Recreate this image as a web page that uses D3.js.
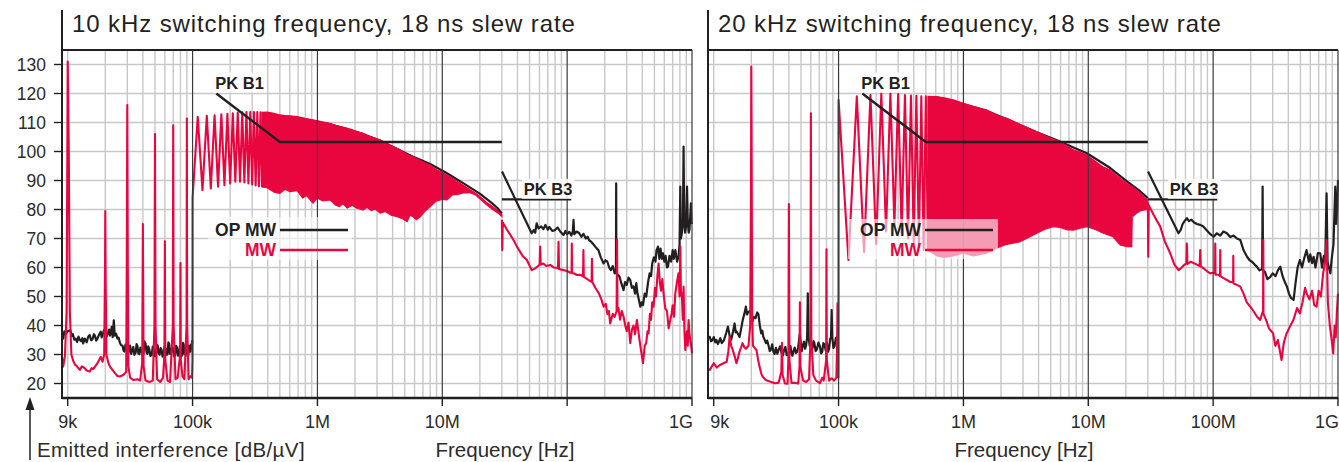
<!DOCTYPE html>
<html>
<head>
<meta charset="utf-8">
<script src="https://cdn.jsdelivr.net/npm/d3@7"></script>
<style>
  html, body { margin: 0; padding: 0; background: #fff; }
  svg { display: block; font-family: 'Liberation Sans', Arial, Helvetica, sans-serif; }
</style>
</head>
<body>
<svg id="chart" width="1339" height="462"></svg>
<script>
'use strict';

/* ── text ─────────────────────────────────── */
const titles = ['10 kHz switching frequency, 18 ns slew rate', '20 kHz switching frequency, 18 ns slew rate'];
const yTicks = [20, 30, 40, 50, 60, 70, 80, 90, 100, 110, 120, 130];
const xTickValues = [0.01, 0.1, 1, 10, 100, 1000];             // MHz
const xTickLabels10 = ['9k', '100k', '1M', '10M', '', '1G'];
const xTickLabels20 = ['9k', '100k', '1M', '10M', '100M', '1G'];
const legendNames = ['OP MW', 'MW'];
const limitNames = ['PK B1', 'PK B3'];
const yTitle = 'Emitted interference [dB/µV]';
const xTitle = 'Frequency [Hz]';

/* ── limit lines [MHz, dB] ────────────────── */
const pkB1 = [[0.155, 120], [0.5, 103.3], [30, 103.3]];
const pkB3 = [[30, 83.5], [108, 83.5]];

/* ── 10 kHz panel: MW [MHz, dB] ───────────── */
const mw10Line = [
  [0.0090,29],[0.0092,25.8],[0.0095,29.5],[0.0098,45],[0.00995,107],[0.0100,131],[0.0102,100],[0.0104,45],
  [0.0107,30],[0.0110,28.1],[0.0114,26.6],[0.0118,26],[0.0125,24.7],[0.0130,25.9],[0.0135,25.5],[0.0142,24.5],
  [0.0150,24.1],[0.0155,25.3],[0.0160,25],[0.0170,26.5],[0.0178,28],[0.0184,29.2],[0.0190,27.5],[0.0196,30],
  [0.0199,60],[0.0200,79.5],[0.0201,60],[0.0204,30],[0.0212,27],[0.0218,25.8],[0.0230,24.5],[0.0240,23.5],
  [0.0250,22.6],[0.0262,22.4],[0.0280,23],[0.0294,24],[0.0297,60],[0.0300,116],[0.0303,60],[0.0306,26],
  [0.0316,22],[0.0337,21.2],[0.0360,21.5],[0.0380,21],[0.0395,27],[0.0400,75],[0.0405,26],[0.0420,21],
  [0.0450,20.5],[0.0480,21],[0.0495,40],[0.0500,106],[0.0505,40],[0.0520,21.5],[0.0550,20.5],[0.0580,22],
  [0.0595,30],[0.0600,69],[0.0605,28],[0.0630,21],[0.0660,20.5],[0.0695,40],[0.0700,109],[0.0705,40],
  [0.0730,21.5],[0.0760,22],[0.0795,30],[0.0800,61.5],[0.0805,28],[0.0830,22.5],[0.0860,21.5],[0.0895,40],
  [0.0900,111.4],[0.0905,40],[0.0930,21.5],[0.0960,22.5],[0.0990,22],[0.0998,28],
  [0.100,84],[0.110,112],[0.120,86.7],[0.130,112.3],[0.140,87.3],[0.150,112.5],[0.160,87.9],[0.170,112.8],
  [0.180,88.4],[0.190,113],[0.200,89],[0.210,113.2],[0.220,89.6],[0.230,113.4],[0.240,89.6],[0.250,113.5],
  [0.260,89.3],[0.270,113.6],[0.280,89],[0.290,113.6],[0.300,88.6],[0.310,113.6],[0.320,88.3],[0.330,113.6],
  [0.340,88],[0.350,113.5],[0.360,87.8]
];
// dense harmonic comb: [MHz, lower edge, upper edge]
const mw10Band = [
  [0.36,87.8,113.5],[0.395,87.5,113.6],[0.45,86,113.2],[0.50,85.6,112.6],[0.55,87,112.4],[0.60,86.2,112.3],
  [0.69,86.5,112],[0.76,84,111.6],[0.82,84.8,111.3],[0.92,82.2,110.9],[1.0,84,110.6],[1.1,83,110.2],
  [1.26,83.3,109.7],[1.4,81.5,109],[1.5,81,108.7],[1.6,82,108.4],[1.73,80.5,108],[1.9,81.5,107.5],
  [2.05,80.5,107],[2.32,79.8,106.3],[2.5,80.8,105.6],[2.7,79.6,105],[2.9,80.2,104.6],[3.18,78.8,104],
  [3.5,79.3,103.1],[3.9,78,102],[4.35,77.5,101.1],[4.8,76.8,100],[5.23,75.8,99],[5.5,78,98.6],
  [5.84,77.5,98.2],[6.2,76.5,97.6],[6.65,77.5,96.9],[7.3,79.5,96],[8.0,81,95.3],[9.0,83,93.7],
  [10.0,83.5,92.8],[10.9,83.3,91.9],[12.0,85,90.8],[13.3,85.2,89.6],[14.7,85.7,88.4],[16.7,85.8,86.8],
  [18.5,85,85.6],[20.1,83.6,84.4],[22.5,81.7,82.5],[25,80.2,81.2],[27.5,79,79.8],[30,77.6,78.2]
];
const mw10Tail = [
  [30,76.5],[30.2,66],[30.5,75.5],[33,73],[37.2,69.5],[39.6,67.2],[44,64],[47.6,62.6],[52,59.1],[55.5,59.7],
  [58.5,60.5],[60.2,61],[60.8,67.2],[61.4,61],[64.3,61.4],[68,60.5],[73.2,60.9],[78,60],[84.5,59.8],[85.3,68.9],
  [86.1,59.5],[93.5,59.1],[100,58.8],[106,58.2],[108.5,58.5],[109,68.3],[109.5,58],[112.5,58],[119.8,57.4],
  [127,57.5],[134,57],[135,66],[136,56.8],[145,56],[157,55],[158,63],[159,55],[168,53],[180,51],[188,49],
  [196,46.5],[204,47.5],[210,44],[216,45],[221,40.7],[232,44],[240,43],[249,45],[251,69.5],[253,45],[258,46],
  [265,42],[274,45],[283,43],[292,40],[300,38],[310,41],[320,33.9],[330,38.5],[340,40],[350,37],[362,41.9],
  [372,38],[380,35],[392,31],[405,27],[418,33],[430,34],[440,38],[449,37.3],[460,44],[470,42],[480,48],
  [492,46.5],[505,53],[515,50],[528,57],[540,61.4],[552,55],[565,52],[578,56],[592,51.1],[610,46],[630,45],
  [650,39],[670,41.9],[686,44],[700,47],[718,43],[735,51.1],[758,55],[780,58],[795,50],[806,67.2],[815,52],
  [830,50],[845,42],[856,53.4],[870,38],[884,31.6],[898,36],[912,38],[925,33],[939,41.9],[955,37],[969,35],
  [985,33],[1000,30.4]
];

/* ── 10 kHz panel: OP MW [MHz, dB] ────────── */
const op10Low = [
  [0.0090,37.4],[0.0092,35.5],[0.0094,38],[0.0096,37],[0.0100,38],[0.0105,38.4],[0.0108,36.4],[0.0110,37],
  [0.0113,35.1],[0.0116,35.5],[0.0119,34.3],[0.0122,36.2],[0.0125,35],[0.0128,34.6],[0.0131,35.6],[0.0133,33.8],
  [0.0137,35.5],[0.0142,34.2],[0.0146,36.1],[0.0150,36.7],[0.0154,34.9],[0.0158,35.3],[0.0162,37],[0.0165,36.5],
  [0.0169,34.8],[0.0172,35.2],[0.0178,36.8],[0.0184,37.9],[0.0187,35.9],[0.0190,36.6],[0.0195,38.4],[0.0200,38],
  [0.0205,36.2],[0.0210,37.4],[0.0214,38.6],[0.0218,36.5],[0.0225,39.5],[0.0229,36],[0.0234,41.8],[0.0238,36.5],
  [0.0244,37.2],[0.0250,35.5],[0.0256,35.8],[0.0262,34],[0.0268,33.2],[0.0275,33],[0.0280,31.4],[0.0285,31],
  [0.0290,33.4],[0.0295,32.6],[0.0302,30.4],[0.0310,31.2],[0.0316,33.1],[0.0322,30.2],[0.0328,31.3],[0.0335,32.6],
  [0.0342,29.9],[0.0350,30.6],[0.0356,33.6],[0.0362,32.8],[0.0368,30.4],[0.0375,30.1],[0.0382,32.4],[0.0390,31.5],
  [0.0398,29.6],[0.0405,30.3],[0.0412,34.5],[0.0420,33.8],[0.0428,30.7],[0.0435,30.2],[0.0442,32.8],[0.0450,31.8],
  [0.0460,29.5],[0.0470,29.8],[0.0480,32.7],[0.0490,31.6],[0.0500,29.4],[0.0510,30.1],[0.0518,32.6],[0.0525,33.2],
  [0.0535,30.5],[0.0545,30],[0.0555,32.2],[0.0565,31.6],[0.0575,29.3],[0.0585,29.7],[0.0597,32.8],[0.0610,32],
  [0.0620,29.9],[0.0630,30],[0.0640,34.2],[0.0650,33.6],[0.0660,30.2],[0.0670,30.4],[0.0685,32.5],[0.0700,31.5],
  [0.0712,29.4],[0.0725,29.6],[0.0738,33],[0.0750,32.4],[0.0765,29.6],[0.0780,30],[0.0790,32.6],[0.0800,31.4],
  [0.0812,29.4],[0.0825,29.8],[0.0838,34],[0.0850,33.2],[0.0862,30.1],[0.0875,30.3],[0.0888,32.7],[0.0900,31.6],
  [0.0912,29.5],[0.0925,29.8],[0.0938,33.1],[0.0950,32.5],[0.0962,31],[0.0975,33.5],[0.0985,31.9],[0.0995,35]
];
const op10High = [
  [0.36,113.2],[0.5,112.3],[0.69,111.7],[0.92,110.6],[1.26,109.4],[1.73,107.7],[2.32,106],[3.18,103.7],
  [4.35,100.9],[5.84,98.2],[8,95.7],[10.9,92.5],[14.7,89.1],[20.1,85.4],[25,82.2],[27.5,80.6],[30,78.6]
];
const op10Tail = [
  [30.1,93.1],[52,71.8],[54,72.9],[55.5,72],[57,75.2],[59,73.5],[62,74.2],[64.5,73.2],[67,74.7],[70,73],
  [72,74],[76,72.6],[80,72.9],[84,73.8],[88,72.4],[93.5,71.2],[97,72.6],[100,71.5],[104,72.3],[108,71],
  [111,72.5],[112.5,76.4],[114,71.5],[119,72.4],[125,71.8],[130,70.6],[135,71.6],[141,70],[146,70.6],[150,69.4],
  [155,69],[161,68.2],[168,67.2],[173,66.5],[178,66],[186,63.5],[196,61.4],[203,62.5],[210,62],[217,60],
  [224,59.1],[232,60.5],[240,58],[246,58.5],[247,89],[248,58],[255,57.5],[263,56.8],[272,54.5],[283,52.2],
  [291,55],[300,54],[310,56.5],[320,55.7],[330,53],[340,53.5],[350,51],[358,54.6],[366,51],[375,49],
  [386,46.5],[395,48],[405,47],[418,51],[430,50],[445,55],[458,58],[470,57],[480,61.4],[495,63.5],
  [510,62],[520,66],[534,67.2],[548,63],[560,66.5],[575,63],[586,64.9],[600,62],[615,64],[630,60],
  [642,60.3],[660,64],[680,62],[700,66],[715,63],[735,66],[760,62],[780,64],[795,68],[806,87.9],
  [815,70],[830,72],[845,75],[856,101.7],[865,78],[880,72],[895,74],[912,87.9],[925,76],[940,72],
  [955,73],[969,78],[980,82.1],[990,76],[1000,75]
];

/* ── 20 kHz panel: MW [MHz, dB] ───────────── */
const mw20Line = [
  [0.0090,25],[0.0093,24.7],[0.0100,27],[0.0106,25.5],[0.0112,26.4],[0.0120,27],[0.0127,27.5],[0.0131,31],
  [0.0134,36.1],[0.0138,33],[0.0142,31.6],[0.0148,29],[0.0152,27],[0.0157,29],[0.0161,31],[0.0166,32.5],
  [0.0170,33.9],[0.0176,32.5],[0.0181,32],[0.0190,33],[0.0196,40],[0.0199,90],[0.0200,129.3],[0.0201,110],
  [0.0203,45],[0.0206,33],[0.0209,32.7],[0.0215,32],[0.0220,31.6],[0.0227,28],[0.0233,25.8],[0.0240,23.5],
  [0.0246,22.4],[0.0261,21.2],[0.0285,20.6],[0.0310,20.1],[0.0331,20.3],[0.0348,24],[0.0352,34],[0.0356,23],
  [0.0372,20],[0.0390,19.9],[0.0396,28],[0.0400,81.9],[0.0404,28],[0.0420,20.2],[0.0450,20.2],[0.0475,20],
  [0.0487,26],[0.0490,48],[0.0493,26],[0.0520,21],[0.0550,20.5],[0.0580,21.5],[0.0595,35],[0.0600,113.2],
  [0.0605,35],[0.0628,22.9],[0.0660,21],[0.0710,20.1],[0.0740,22],[0.0760,21],[0.0795,28],[0.0800,66.3],
  [0.0805,28],[0.0840,21],[0.0880,21.8],[0.0920,21],[0.0960,22],[0.0975,35],[0.0980,47.7],[0.0985,30],
  [0.0998,22],
  [0.100,117.8],[0.120,62.6],[0.140,119],[0.160,65.4],[0.180,119.5],[0.200,68],[0.220,120],[0.240,72.4],
  [0.260,120],[0.280,74.7],[0.300,119.8],[0.320,72],[0.340,119.5],[0.360,70],[0.380,119.3],[0.400,68],
  [0.420,119.2],[0.440,67],[0.460,119],[0.480,66],[0.500,119],[0.520,66]
];
const mw20Band = [
  [0.52,66,119],[0.615,64,118.9],[0.70,63.5,118.5],[0.827,64,117.8],[1.0,65,116.6],[1.2,64,115.6],
  [1.54,65,114.3],[1.8,66.5,112.8],[1.97,67.2,112],[2.23,68,111.4],[2.85,68.9,109.3],[3.87,71.8,106.8],
  [4.5,73.2,105.5],[5.26,74.1,104.2],[5.95,73.8,103.4],[6.8,73,101.8],[7.6,72.9,100.6],[8.6,73.6,99.7],
  [9.74,74.1,98.8],[11.5,73,96.5],[13.2,71.8,94.6],[15,71,93.6],[15.8,70.6,92.8],[18,67.8,90.8],
  [20.4,67.2,89],[22.3,67.2,88],[22.5,77.5,87.9],[24,78.5,87],[26,79.5,85.6],[27.5,79.8,84.6],[30,80,83.3]
];
const mw20Tail = [
  [30,82.5],[30.2,63.7],[30.5,81.5],[33.5,78],[37.7,74.1],[41,69],[45.3,64.9],[49,61],[52.8,59.1],[56,60],
  [59,61],[61,61.4],[61.6,68.3],[62.2,61.2],[66,62],[70,61.5],[74,61],[78,60.5],[78.8,66],[79.6,60.4],
  [85,59.5],[90,58.6],[94.8,58],[100,58.2],[103.5,58],[104,68.3],[104.5,57.5],[110,57.5],[113.5,57],[114,66],
  [114.5,57],[120,56.4],[129,55.7],[137,55],[144.5,55],[145,64],[145.5,54.5],[155,54],[165,53.4],[175,51],
  [186,48],[198,46.5],[210,45],[225,43],[238,41.9],[246,44],[251,45],[252,69.5],[253,44],[265,42],
  [280,39],[302,37.3],[315,33],[330,35],[353,28.1],[368,34],[385,37],[412,39.6],[440,42],[470,46],
  [495,44.2],[520,48],[545,53],[560,51.1],[590,49],[620,52],[645,47],[674,46.5],[700,52],[730,50],
  [760,58],[790,62],[810,69.5],[830,48],[860,40],[890,35],[915,30.4],[940,40],[960,36],[980,45],[1000,51]
];

/* ── 20 kHz panel: OP MW [MHz, dB] ────────── */
const op20Low = [
  [0.0090,36],[0.0093,36.1],[0.0095,34.6],[0.0097,34.8],[0.0100,36],[0.0103,34.2],[0.0105,35],[0.0108,33.6],
  [0.0110,34.4],[0.0113,35.6],[0.0116,33.9],[0.0121,35],[0.0126,37.5],[0.0130,39.6],[0.0134,36.5],[0.0138,35],
  [0.0143,38],[0.0147,40.7],[0.0150,37.6],[0.0152,38],[0.0157,37],[0.0161,36],[0.0166,39],[0.0171,42],
  [0.0176,44],[0.0181,46.5],[0.0185,43.8],[0.0188,44.5],[0.0195,45],[0.0200,44],[0.0205,41.6],[0.0209,43],
  [0.0216,42.5],[0.0223,44.5],[0.0228,43.9],[0.0234,40],[0.0240,37.3],[0.0245,38.2],[0.0250,36],[0.0256,35.1],
  [0.0262,33.9],[0.0268,34.8],[0.0275,33],[0.0281,31.2],[0.0288,31.8],[0.0294,33.5],[0.0300,31],[0.0307,30.2],
  [0.0315,32.3],[0.0323,30.3],[0.0331,31.6],[0.0340,32.8],[0.0350,30.5],[0.0358,29.7],[0.0365,31.4],[0.0375,32.6],
  [0.0384,29.8],[0.0395,30.2],[0.0405,31],[0.0412,32.9],[0.0420,30.2],[0.0427,29.6],[0.0434,31],[0.0445,32.4],
  [0.0455,30.5],[0.0465,30.9],[0.0475,32.5],[0.0490,37.3],[0.0500,33],[0.0508,31.2],[0.0516,33],[0.0528,34.4],
  [0.0540,32],[0.0550,33.2],[0.0560,36],[0.0567,51.1],[0.0575,36],[0.0587,33.1],[0.0600,34.5],[0.0610,31.4],
  [0.0620,32.5],[0.0630,34.6],[0.0640,33.9],[0.0655,31.2],[0.0670,31.8],[0.0690,34.1],[0.0710,32.7],[0.0725,30.4],
  [0.0740,31],[0.0755,33.9],[0.0770,33.5],[0.0790,31.3],[0.0807,34],[0.0825,31],[0.0840,32],[0.0855,35.2],
  [0.0870,36],[0.0880,45.3],[0.0890,36],[0.0910,32.3],[0.0930,33],[0.0950,35.6],[0.0970,36.1],[0.0995,36]
];
const op20High = [
  [0.52,118.7],[0.615,118.6],[0.827,117.5],[1.0,116.3],[1.54,114],[2.23,111.1],[3.87,106.6],[5.95,103.4],
  [9.74,99.4],[15,94.3],[20.4,89.7],[26,86.3],[30,83.9]
];
const op20Tail = [
  [30.1,93.1],[52.8,71.8],[55,73],[57,75],[59,76],[61.6,77],[64,76],[67,76.5],[70,75.6],[74,75],
  [78.8,74.7],[83,74.2],[88,73],[95,71.5],[101,70.6],[107,71.8],[114,71],[121,72.4],[129,71.8],[137,70.5],
  [146,71],[155,70],[165,69.5],[175,66],[187,63.7],[196,62.5],[205,62],[215,61],[224,60.3],[235,59],
  [247,59.5],[249,87.9],[251,59],[260,58.5],[272,56],[287,56.8],[300,58],[316,57],[330,59],[345,60.3],
  [360,57],[375,55],[390,53.4],[405,51],[420,49.5],[441,48.8],[458,55],[475,60],[495,62.6],[515,60],
  [535,63],[560,66],[585,62],[600,64.5],[620,61.5],[638,63.7],[660,60],[690,65],[721,64.9],[745,60],
  [770,64],[790,62],[810,85.6],[825,62],[845,60],[868,58],[890,63],[920,68],[951,87.9],[965,75],
  [985,80],[1000,90.2]
];

/* ── style ────────────────────────────────── */
const RED = '#e9063f';
const INK = '#231f20';
const GRID = '#c8c8c8';
const xDomain = [0.009, 1000];
const yDomain = [15, 135];
const TOP = 50, BOTTOM = 398;

const svg = d3.select('#chart');
svg.append('rect').attr('width', 1339).attr('height', 462).attr('fill', '#fff');

const panels = [
  { x0: 62,  x1: 692,  title: titles[0], labels: xTickLabels10, mwLine: mw10Line, mwBand: mw10Band, mwTail: mw10Tail,
    opLow: op10Low, opHigh: op10High, opTail: op10Tail, yAxis: true, firstShift: 0,
    legend: { x: 276, y: 230, box: [208, 217, 144, 43] }, xTitleX: 505 },
  { x0: 708, x1: 1338, title: titles[1], labels: xTickLabels20, mwLine: mw20Line, mwBand: mw20Band, mwTail: mw20Tail,
    opLow: op20Low, opHigh: op20High, opTail: op20Tail, yAxis: false, firstShift: 6,
    legend: { x: 921, y: 230, box: [848, 219, 150, 40] }, xTitleX: 1024 },
];

const isDecade = v => Math.abs(Math.log10(v) - Math.round(Math.log10(v))) < 1e-6;

function labelWithBg(g, txt, x, yb, size, color) {
  const t = g.append('text').attr('x', x).attr('y', yb)
    .attr('font-size', size).attr('font-weight', 700).attr('fill', color).text(txt);
  const b = t.node().getBBox();
  g.insert('rect', () => t.node())
    .attr('x', b.x - 2).attr('y', b.y - 1).attr('width', b.width + 4).attr('height', b.height + 2)
    .attr('fill', '#fff').attr('opacity', 0.85);
  return t;
}

function drawPanel(p) {
  const x = d3.scaleLog().domain(xDomain).range([p.x0, p.x1]);
  const y = d3.scaleLinear().domain(yDomain).range([BOTTOM, TOP]);
  const g = svg.append('g');

  /* grid */
  const minor = x.ticks().filter(v => v > 0.0095 && v < 999 && (!isDecade(v) || Math.abs(v - 0.01) < 1e-9));
  const major = [0.1, 1, 10, 100, 1000];
  g.append('g').selectAll('line').data(yTicks).join('line')
    .attr('x1', p.x0).attr('x2', p.x1).attr('y1', d => y(d)).attr('y2', d => y(d))
    .attr('stroke', GRID).attr('stroke-width', 1.4);
  g.append('g').selectAll('line').data(minor).join('line')
    .attr('x1', d => x(d)).attr('x2', d => x(d)).attr('y1', TOP).attr('y2', BOTTOM)
    .attr('stroke', GRID).attr('stroke-width', 1.4);

  const line = d3.line().x(d => x(d[0])).y(d => y(d[1]));
  const band = d3.area().x(d => x(d[0])).y0(d => y(d[1])).y1(d => y(d[2]));

  /* OP MW (under) */
  [p.opLow, p.opHigh, p.opTail].forEach(s => {
    g.append('path').datum(s).attr('d', line).attr('fill', 'none')
      .attr('stroke', INK).attr('stroke-width', 2.2).attr('stroke-linejoin', 'round');
  });

  /* MW */
  g.append('path').datum(p.mwBand).attr('d', band)
    .attr('fill', RED).attr('stroke', RED).attr('stroke-width', 1.2);
  [p.mwLine, p.mwTail].forEach(s => {
    g.append('path').datum(s).attr('d', line).attr('fill', 'none')
      .attr('stroke', RED).attr('stroke-width', 2.1).attr('stroke-linejoin', 'round');
  });

  /* decade lines on top */
  g.append('g').selectAll('line').data(major).join('line')
    .attr('x1', d => x(d)).attr('x2', d => x(d)).attr('y1', TOP).attr('y2', BOTTOM)
    .attr('stroke', '#3a3a3a').attr('stroke-width', 1.2);

  /* limit lines */
  [pkB1, pkB3].forEach(s => {
    g.append('path').datum(s).attr('d', line).attr('fill', 'none')
      .attr('stroke', INK).attr('stroke-width', 2.4);
  });
  labelWithBg(g, limitNames[0], x(pkB1[0][0]) - 1, y(pkB1[0][1]) - 5, 16.5, INK);
  labelWithBg(g, limitNames[1], x(pkB3[0][0]) + 22, y(pkB3[0][1]) - 4.5, 16.5, INK);

  /* legend */
  const L = p.legend;
  g.append('rect').attr('x', L.box[0]).attr('y', L.box[1]).attr('width', L.box[2]).attr('height', L.box[3])
    .attr('fill', '#fff').attr('opacity', 0.6);
  legendNames.forEach((n, i) => {
    const c = i === 0 ? INK : RED;
    const ly = L.y + i * 20;
    g.append('text').attr('x', L.x).attr('y', ly + 6).attr('text-anchor', 'end')
      .attr('font-size', 17.5).attr('font-weight', 700).attr('fill', c).text(n);
    g.append('line').attr('x1', L.x + 4).attr('x2', L.x + 72).attr('y1', ly).attr('y2', ly)
      .attr('stroke', c).attr('stroke-width', 2.4);
  });

  /* frame */
  g.append('line').attr('x1', p.x0).attr('x2', p.x1).attr('y1', TOP).attr('y2', TOP)
    .attr('stroke', INK).attr('stroke-width', 2);
  g.append('line').attr('x1', p.x0).attr('x2', p.x1).attr('y1', BOTTOM).attr('y2', BOTTOM)
    .attr('stroke', INK).attr('stroke-width', 2.4);
  g.append('line').attr('x1', p.x0).attr('x2', p.x0).attr('y1', 10).attr('y2', BOTTOM + 1)
    .attr('stroke', INK).attr('stroke-width', 2);

  /* x ticks */
  const last = xTickValues.length - 1;
  g.append('g').selectAll('line').data(xTickValues).join('line')
    .attr('x1', d => x(d)).attr('x2', d => x(d)).attr('y1', BOTTOM).attr('y2', BOTTOM + 8)
    .attr('stroke', INK).attr('stroke-width', 1.4);
  g.append('g').selectAll('text').data(xTickValues).join('text')
    .attr('x', (d, i) => i === last ? x(d) + 1 : i === 0 ? x(d) + p.firstShift : x(d))
    .attr('y', 428)
    .attr('text-anchor', (d, i) => i === last ? 'end' : 'middle')
    .attr('font-size', 18).attr('fill', '#2b2b2b')
    .text((d, i) => p.labels[i]);

  /* y ticks */
  if (p.yAxis) {
    g.append('g').selectAll('line').data(yTicks).join('line')
      .attr('x1', p.x0 - 8).attr('x2', p.x0).attr('y1', d => y(d)).attr('y2', d => y(d))
      .attr('stroke', INK).attr('stroke-width', 1.4);
    g.append('g').selectAll('text').data(yTicks).join('text')
      .attr('x', p.x0 - 16).attr('y', d => y(d)).attr('dy', '0.36em')
      .attr('text-anchor', 'end').attr('font-size', 17.5).attr('fill', '#2b2b2b')
      .text(d => d);
  }

  /* titles */
  g.append('text').attr('x', p.x0 + 10).attr('y', 32)
    .attr('font-size', 24).attr('letter-spacing', 0.9).attr('fill', INK).text(p.title);
  g.append('text').attr('x', p.xTitleX).attr('y', 457).attr('text-anchor', 'middle')
    .attr('font-size', 20.5).attr('fill', '#2b2b2b').text(xTitle);
}

panels.forEach(drawPanel);

/* y-axis title with arrow */
svg.append('line').attr('x1', 30).attr('x2', 30).attr('y1', 406).attr('y2', 460)
  .attr('stroke', INK).attr('stroke-width', 1.5);
svg.append('path').attr('d', 'M25.5,410 L30,397 L34.5,410 Z').attr('fill', INK);
svg.append('text').attr('x', 37).attr('y', 457).attr('font-size', 20.5)
  .attr('letter-spacing', 0.4).attr('fill', '#2b2b2b').text(yTitle);
</script>
</body>
</html>
